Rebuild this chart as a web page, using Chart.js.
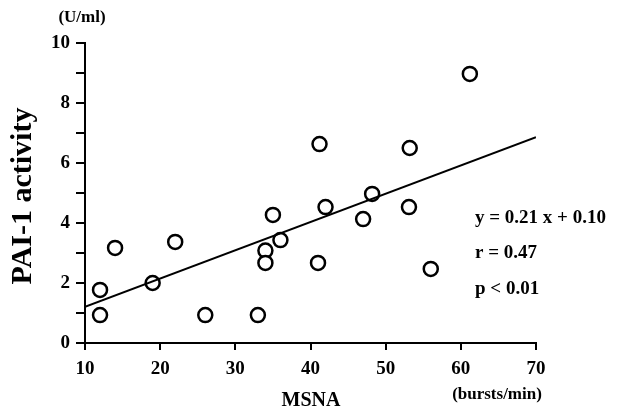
<!DOCTYPE html>
<html>
<head>
<meta charset="utf-8">
<script src="https://cdn.jsdelivr.net/npm/chart.js@4.4.0/dist/chart.umd.min.js"></script>
<style>
  html, body { margin: 0; padding: 0; background: #fff; }
  #wrap { width: 619px; height: 413px; }
</style>
</head>
<body>
<div id="wrap"><canvas id="chart" width="619" height="413"></canvas></div>
<script>
// Data
const msna = [12, 12, 14, 19, 22, 26, 33, 34, 34, 35, 36, 41.2, 41, 42, 47, 48.2, 53.2, 53.1, 56, 61.2];
const pai  = [1.77, 0.93, 3.17, 2.0, 3.37, 0.93, 0.93, 3.08, 2.67, 4.27, 3.43, 6.63, 2.67, 4.53, 4.13, 4.97, 6.5, 4.53, 2.47, 8.97];

// Regression line as drawn
const fitX = [10, 70];
const fitY = [1.21, 6.86];

const xTicks = [10, 20, 30, 40, 50, 60, 70];
const yTickLabels = [0, 2, 4, 6, 8, 10];

const statsLines = ['y = 0.21 x + 0.10', 'r = 0.47', 'p < 0.01'];

const serif = '"Liberation Serif", "Times New Roman", serif';

// Extra text drawn around the plot
const labelsPlugin = {
    id: 'labels',
    afterDraw(chart) {
        const ctx = chart.ctx;
        ctx.save();
        ctx.fillStyle = '#000';
        ctx.textBaseline = 'middle';

        ctx.font = 'bold 17px ' + serif;
        ctx.textAlign = 'center';
        ctx.fillText('(U/ml)', 82, 18);

        ctx.font = 'bold 20px ' + serif;
        ctx.fillText('MSNA', 311, 401);

        ctx.font = 'bold 17px ' + serif;
        ctx.fillText('(bursts/min)', 497, 395);

        ctx.font = 'bold 19px ' + serif;
        ctx.textAlign = 'left';
        statsLines.forEach((s, i) => {
            ctx.fillText(s, 475, 218 + i * 35.5);
        });

        ctx.translate(23, 196);
        ctx.rotate(-Math.PI / 2);
        ctx.font = 'bold 30px ' + serif;
        ctx.textAlign = 'center';
        ctx.fillText('PAI-1 activity', 0, 0);
        ctx.restore();
    }
};

const ctx = document.getElementById('chart').getContext('2d');
new Chart(ctx, {
    type: 'scatter',
    data: {
        datasets: [
            {
                label: 'fit',
                data: fitX.map((x, i) => ({ x: x, y: fitY[i] })),
                showLine: true,
                borderColor: '#000',
                borderWidth: 2,
                pointRadius: 0
            },
            {
                label: 'subjects',
                data: msna.map((x, i) => ({ x: x, y: pai[i] })),
                pointStyle: 'circle',
                pointRadius: 7,
                pointBorderWidth: 2.5,
                pointBackgroundColor: '#fff',
                pointBorderColor: '#000'
            }
        ]
    },
    options: {
        responsive: false,
        animation: false,
        layout: { padding: { left: 0, right: 83, top: 43, bottom: 0 } },
        plugins: {
            legend: { display: false },
            tooltip: { enabled: false }
        },
        scales: {
            x: {
                type: 'linear',
                min: 10,
                max: 70,
                afterBuildTicks: (scale) => { scale.ticks = xTicks.map(v => ({ value: v })); },
                afterFit: (scale) => { scale.height = 70; },
                ticks: {
                    color: '#000',
                    font: { family: serif, size: 19, weight: 'bold' },
                    padding: 8,
                    maxRotation: 0
                },
                grid: { drawOnChartArea: false, drawTicks: true, tickLength: 7, color: '#000', lineWidth: 2 },
                border: { color: '#000', width: 2 }
            },
            y: {
                min: 0,
                max: 10,
                afterFit: (scale) => { scale.width = 85; },
                ticks: {
                    stepSize: 1,
                    color: '#000',
                    font: { family: serif, size: 19, weight: 'bold' },
                    padding: 6,
                    callback: (v) => yTickLabels.includes(v) ? String(v) : ''
                },
                grid: { drawOnChartArea: false, drawTicks: true, tickLength: 9, color: '#000', lineWidth: 2 },
                border: { color: '#000', width: 2 }
            }
        }
    },
    plugins: [labelsPlugin]
});
</script>
</body>
</html>
